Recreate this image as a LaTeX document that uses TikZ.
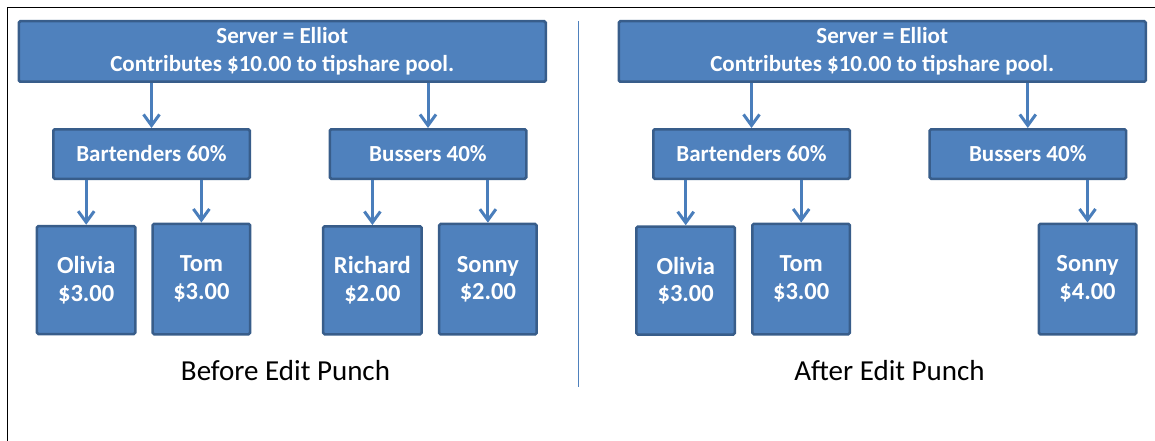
\documentclass[tikz,border=0pt]{standalone}
\usepackage{fontspec}
\setmainfont{Carlito}
\usetikzlibrary{arrows.meta}
\definecolor{boxfill}{HTML}{4F81BD}
\definecolor{boxline}{HTML}{385D8A}
\definecolor{arrowcol}{HTML}{4A7EBB}
\tikzset{
  box/.style={draw=boxline, fill=boxfill, line width=2.5pt, rounded corners=1.5pt,
    text=white, font=\bfseries\fontsize{23}{28}\selectfont, align=center, inner sep=0pt},
  topbox/.style={box, minimum width=527pt, minimum height=60.5pt},
  midbox/.style={box, minimum width=196.5pt, minimum height=49.5pt},
  leafbox/.style={box, font=\bfseries\fontsize{24.5}{27.5}\selectfont, minimum width=98.5pt, minimum height=108pt},
  leafboxtall/.style={leafbox, minimum width=97.5pt, minimum height=110.5pt},
  conn/.style={draw=arrowcol, line width=3pt, -{Straight Barb[length=11pt,width=16pt]}},
  caption/.style={font=\fontsize{29}{34}\selectfont, text=black, inner sep=0pt}
}
\begin{document}
\begin{tikzpicture}[x=1pt,y=-1pt]
\useasboundingbox (0,0) rectangle (1155,441);
% frame
\draw[line width=1.5pt] (7.3,441) -- (7.3,7.3) -- (1155,7.3);
% divider
\draw[draw=boxfill, line width=1pt] (578.3,21) -- (578.3,386.7);

% ---- before ----
\node[topbox] (top1) at (282.25,51.5) {Server = Elliot\\Contributes \$10.00 to tipshare pool.};
\node[midbox] (bar1) at (151.5,154) {Bartenders 60\%};
\node[midbox] (bus1) at (428,154) {Bussers 40\%};
\node[leafbox] (oli1) at (86.2,280) {Olivia\\\$3.00};
\node[leafboxtall] (tom1) at (201.4,279) {Tom\\\$3.00};
\node[leafbox] (ric1) at (372.4,280.3) {Richard\\\$2.00};
\node[leafboxtall] (son1) at (487.9,279.2) {Sonny\\\$2.00};
\node[caption] (cap1) at (285.5,371) {Before Edit Punch};

\draw[conn] (bar1.north |- top1.south) -- (bar1.north);
\draw[conn] (bus1.north |- top1.south) -- (bus1.north);
\draw[conn] (oli1.north |- bar1.south) -- (oli1.north);
\draw[conn] (tom1.north |- bar1.south) -- (tom1.north);
\draw[conn] (ric1.north |- bus1.south) -- (ric1.north);
\draw[conn] (son1.north |- bus1.south) -- (son1.north);

% ---- after ----
\node[topbox] (top2) at (882.25,51.5) {Server = Elliot\\Contributes \$10.00 to tipshare pool.};
\node[midbox] (bar2) at (751.5,154) {Bartenders 60\%};
\node[midbox] (bus2) at (1027.8,154) {Bussers 40\%};
\node[leafbox] (oli2) at (685.7,280.5) {Olivia\\\$3.00};
\node[leafboxtall] (tom2) at (801.2,279) {Tom\\\$3.00};
\node[leafboxtall] (son2) at (1087.5,279) {Sonny\\\$4.00};
\node[caption] (cap2) at (889.5,371) {After Edit Punch};

\draw[conn] (bar2.north |- top2.south) -- (bar2.north);
\draw[conn] (bus2.north |- top2.south) -- (bus2.north);
\draw[conn] (oli2.north |- bar2.south) -- (oli2.north);
\draw[conn] (tom2.north |- bar2.south) -- (tom2.north);
\draw[conn] (son2.north |- bus2.south) -- (son2.north);
\end{tikzpicture}
\end{document}
